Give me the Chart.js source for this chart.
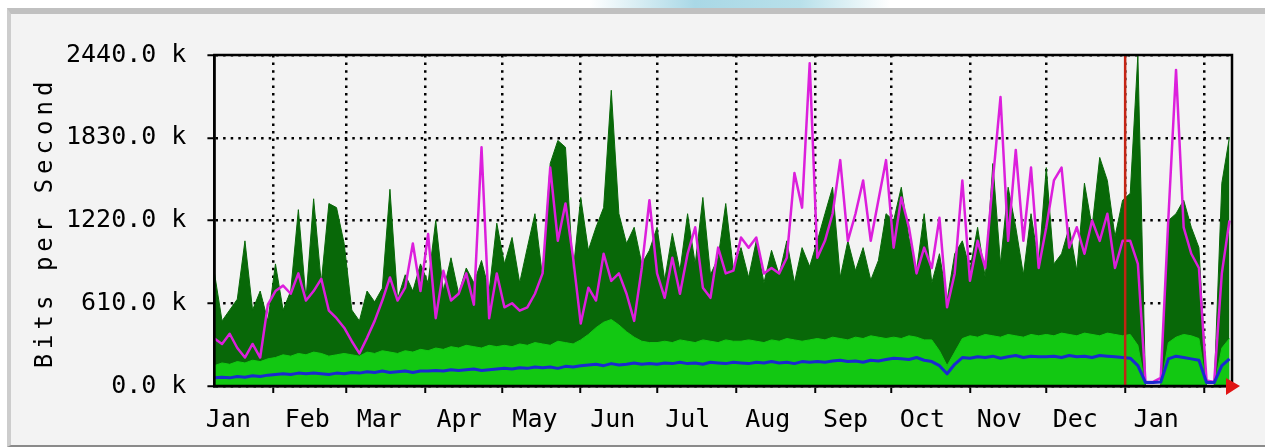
<!DOCTYPE html>
<html>
<head>
<meta charset="utf-8">
<title>Bits per Second - yearly</title>
<script src="https://cdn.jsdelivr.net/npm/chart.js@4.4.1/dist/chart.umd.min.js"></script>
<style>
  html, body { margin: 0; padding: 0; background: #fff; }
  body { width: 1265px; height: 447px; position: relative; overflow: hidden; }
  #glow {
    position: absolute; left: 590px; top: 0; width: 300px; height: 8px;
    background: linear-gradient(to right, rgba(180,222,234,0), #a9d8e6 35%, #b8e0ea 70%, rgba(220,240,244,0));
  }
  #frame {
    position: absolute; left: 7px; top: 8px; width: 1258px; height: 431px;
    background: #f3f3f3;
    border-top: 6px solid #c0c0c0;
    border-left: 4px solid #cdcdcd;
    border-bottom: 2px solid #8a8a8a;
  }
  #chart { position: absolute; left: 0; top: 0; }
</style>
</head>
<body>
<div id="glow"></div>
<div id="frame"></div>
<canvas id="chart" width="1265" height="447"></canvas>
<script>
// x values are days since the left edge of the graph (about 400 days shown)
const DAYS = [
  0, 3, 6, 9, 12, 15, 18, 21, 24,
  27, 30, 33, 36, 39, 42, 45, 48,
  51, 54, 57, 60, 63, 66, 69, 72, 75, 78, 81,
  84, 87, 90, 93, 96, 99, 102, 105, 108, 111,
  114, 117, 120, 123, 126, 129, 132, 135, 138, 141,
  144, 147, 150, 153, 156, 159, 162, 165, 168, 171,
  174, 177, 180, 183, 186, 189, 192, 195, 198, 201, 204,
  207, 210, 213, 216, 219, 222, 225, 228, 231, 234,
  237, 240, 243, 246, 249, 252, 255, 258, 261, 264,
  267, 270, 273, 276, 279, 282, 285, 288, 291, 294,
  297, 300, 303, 306, 309, 312, 315, 318, 321, 324,
  327, 330, 333, 336, 339, 342, 345, 348, 351, 354, 357,
  360, 363, 366, 369, 372, 375, 378, 381, 384, 387, 390, 393, 396, 399
];

// values in k bits per second
const MAX_IN = [
  835, 480, 560, 640, 1070, 560, 700, 480, 900,
  560, 700, 1300, 640, 1380, 760, 1345, 1315,
  1050, 560, 480, 700, 620, 720, 1450, 640, 820, 700, 900,
  760, 1220, 700, 945, 680, 870, 760, 925, 700, 1200,
  900, 1095, 760, 1020, 1270, 800, 1640, 1810, 1760, 840,
  1390, 1000, 1170, 1315, 2180, 1270, 1050, 1170, 900, 1000,
  1170, 780, 1125, 850, 1270, 900, 1390, 820, 945, 1345, 860,
  1020, 800, 1070, 760, 1000, 820, 1070, 760, 1020, 880,
  1070, 1270, 1465, 800, 1070, 850, 1020, 780, 925, 1270,
  1220, 1465, 1095, 850, 1270, 760, 975, 630, 975, 1070,
  860, 1170, 800, 1640, 900, 1465, 1170, 820, 1270, 900,
  1610, 900, 975, 1170, 850, 1495, 1170, 1685, 1515, 1100, 1370,
  1420, 2440, 0, 0, 0, 1220, 1270, 1370, 1170, 1020, 0, 0, 1495, 1835
];

const AVG_IN = [
  150, 170, 160, 180, 170, 190, 180, 200, 210,
  230, 220, 240, 230, 250, 240, 220, 230,
  240, 230, 220, 250, 240, 260, 250, 240, 260, 250, 270,
  260, 280, 270, 290, 280, 300, 290, 280, 300, 290,
  300, 290, 310, 300, 320, 310, 300, 330, 320, 310,
  340, 380, 430, 470, 490, 450, 400, 360, 330, 320,
  320, 330, 320, 340, 330, 320, 340, 330, 320, 340, 330,
  330, 340, 330, 320, 340, 330, 350, 340, 330, 340,
  350, 340, 360, 350, 340, 360, 350, 370, 360, 350,
  360, 350, 370, 360, 340, 340, 260, 150, 250, 350,
  370, 360, 380, 370, 360, 380, 370, 360, 380, 370,
  380, 370, 390, 380, 370, 390, 380, 370, 390, 380, 370,
  380, 300, 0, 0, 0, 320, 360, 380, 370, 350, 0, 0, 280, 350
];

const MAX_OUT = [
  350, 310, 385, 280, 210, 310, 210, 600, 700,
  740, 680, 830, 630, 700, 790, 555, 500,
  430, 330, 240, 355, 480, 630, 800, 630, 725, 1050, 700,
  1120, 500, 850, 630, 680, 830, 600, 1760, 500, 830,
  580, 610, 555, 580, 680, 830, 1610, 1070, 1345, 945,
  460, 725, 630, 975, 775, 830, 680, 480, 870, 1370,
  830, 650, 945, 680, 975, 1170, 725, 650, 1020, 830, 850,
  1095, 1020, 1095, 830, 870, 830, 945, 1570, 1315, 2380,
  945, 1070, 1270, 1665, 1070, 1270, 1515, 1070, 1370, 1665,
  1020, 1390, 1170, 830, 1020, 870, 1240, 580, 830, 1515,
  775, 1070, 870, 1515, 2130, 1070, 1740, 1070, 1610, 870,
  1170, 1515, 1610, 1020, 1170, 975, 1220, 1070, 1270, 870, 1070,
  1070, 900, 30, 30, 60, 1240, 2330, 1170, 975, 870, 40, 30, 830, 1220
];

const AVG_OUT = [
  60, 65, 60, 70, 65, 75, 70, 80, 85,
  90, 85, 95, 90, 95, 90, 85, 95,
  90, 100, 95, 105, 100, 110, 100, 105, 110, 100, 110,
  110, 115, 110, 120, 115, 120, 125, 115, 120, 125,
  130, 125, 135, 130, 140, 135, 140, 130, 145, 140,
  150, 155, 160, 150, 165, 155, 160, 170, 160, 165,
  160, 170, 165, 175, 165, 170, 160, 175, 170, 165, 175,
  170, 165, 175, 170, 180, 170, 175, 165, 180, 175,
  180, 175, 185, 190, 180, 185, 175, 190, 185, 195,
  205, 200, 195, 210, 190, 180, 150, 90, 160, 210,
  205, 215, 210, 220, 205, 215, 225, 210, 220, 215,
  215, 220, 210, 225, 215, 220, 210, 225, 220, 215, 210,
  205, 150, 25, 25, 30, 200, 220, 210, 200, 190, 25, 25, 150, 200
];

const Y_TICKS = [0, 610, 1220, 1830, 2440];
const MONTH_EDGES = [23, 52, 83, 113, 144, 174, 205, 236, 266, 297, 327, 358, 389];
const MONTH_NAMES = ['Jan', 'Feb', 'Mar', 'Apr', 'May', 'Jun', 'Jul', 'Aug', 'Sep', 'Oct', 'Nov', 'Dec', 'Jan'];
const MONTH_LABEL_DAYS = [5.5, 36.5, 64.8, 96.2, 126, 156.6, 186.1, 217.5, 248.1, 278.3, 308.5, 338.4, 370.2];
const DAY_MIN = 0;
const DAY_MAX = 400;
const YEAR_START = MONTH_EDGES[11];

const FONT = '"DejaVu Sans Mono", "Liberation Mono", monospace';

// frame, red year marker, arrow and the rotated axis title
const mrtgDecor = {
    id: 'mrtgDecor',
    afterDraw(chart) {
        const ctx = chart.ctx;
        const a = chart.chartArea;
        const xs = chart.scales.x;
        ctx.save();

        const rx = xs.getPixelForValue(YEAR_START);
        ctx.strokeStyle = '#c42414';
        ctx.lineWidth = 2.5;
        ctx.beginPath();
        ctx.moveTo(rx, a.top);
        ctx.lineTo(rx, a.bottom);
        ctx.stroke();

        ctx.strokeStyle = '#000';
        ctx.lineWidth = 2.5;
        ctx.strokeRect(a.left, a.top, a.right - a.left, a.bottom - a.top);

        ctx.fillStyle = '#e01414';
        ctx.beginPath();
        ctx.moveTo(a.right - 6, a.bottom - 8);
        ctx.lineTo(a.right + 8, a.bottom);
        ctx.lineTo(a.right - 6, a.bottom + 9);
        ctx.closePath();
        ctx.fill();

        ctx.translate(46, (a.top + a.bottom) / 2 + 2);
        ctx.rotate(-Math.PI / 2);
        ctx.font = '24px ' + FONT;
        const hasSpacing = 'letterSpacing' in ctx;
        if (hasSpacing) ctx.letterSpacing = '5px';
        ctx.fillStyle = '#000';
        ctx.textAlign = 'center';
        ctx.textBaseline = 'middle';
        ctx.fillText('Bits per Second', 0, 0);
        // letterSpacing is not always restored with the state, reset it by hand
        if (hasSpacing) ctx.letterSpacing = '0px';
        ctx.restore();
    }
};

Chart.defaults.font.family = FONT;
Chart.defaults.color = '#000';

const chart = new Chart(document.getElementById('chart'), {
    type: 'line',
    data: {
        labels: DAYS,
        datasets: [
            { label: 'Average out', data: AVG_OUT, borderColor: '#1a2ad0', borderWidth: 3, fill: false },
            { label: 'Maximal out', data: MAX_OUT, borderColor: '#dc1fdc', borderWidth: 2.5, fill: false },
            { label: 'Average in', data: AVG_IN, borderColor: '#12c812', backgroundColor: '#12c812', borderWidth: 1, fill: 'origin' },
            { label: 'Maximal in', data: MAX_IN, borderColor: '#086808', backgroundColor: '#086808', borderWidth: 1, fill: 'origin' }
        ]
    },
    options: {
        responsive: false,
        animation: false,
        layout: { padding: { left: 45, right: 33, top: 55, bottom: 0 } },
        elements: {
            point: { radius: 0 },
            line: { tension: 0, borderJoinStyle: 'round' }
        },
        plugins: {
            legend: { display: false },
            tooltip: { enabled: false }
        },
        scales: {
            x: {
                type: 'linear',
                min: DAY_MIN,
                max: DAY_MAX,
                z: 1,
                afterBuildTicks: (axis) => {
                    const t = MONTH_EDGES.map(v => ({ value: v }))
                        .concat(MONTH_LABEL_DAYS.map((v, i) => ({ value: v, name: MONTH_NAMES[i] })));
                    t.sort((p, q) => p.value - q.value);
                    axis.ticks = t;
                },
                afterFit: (axis) => {
                    axis.paddingLeft = 0;
                    axis.paddingRight = 0;
                },
                ticks: {
                    autoSkip: false,
                    maxRotation: 0,
                    padding: 12,
                    font: { size: 25 },
                    callback: (v, i, t) => t[i].name || ''
                },
                grid: {
                    color: (c) => (c.tick && c.tick.name) ? 'rgba(0,0,0,0)' : '#000',
                    tickColor: (c) => (c.tick && c.tick.name) ? 'rgba(0,0,0,0)' : '#000',
                    lineWidth: 2.5,
                    tickWidth: 2,
                    tickLength: 7
                },
                border: { display: true, color: '#000', width: 2.5, dash: [2.5, 5.1] }
            },
            y: {
                min: 0,
                max: 2440,
                z: 1,
                afterBuildTicks: (axis) => {
                    axis.ticks = Y_TICKS.map(v => ({ value: v }));
                },
                ticks: {
                    padding: 21,
                    font: { size: 25 },
                    callback: (v) => v.toFixed(1) + ' k'
                },
                grid: {
                    color: '#000',
                    lineWidth: 2.5,
                    tickColor: '#000',
                    tickWidth: 2,
                    tickLength: 7
                },
                border: { display: true, color: '#000', width: 2.5, dash: [2.5, 5.1] }
            }
        }
    },
    plugins: [mrtgDecor]
});
</script>
</body>
</html>
